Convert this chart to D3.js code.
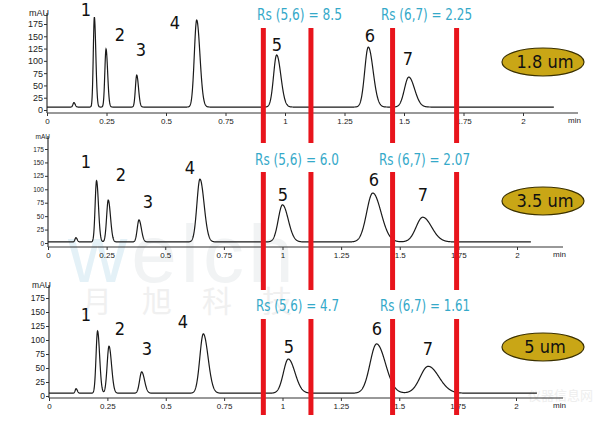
<!DOCTYPE html>
<html>
<head>
<meta charset="utf-8">
<script src="https://cdn.jsdelivr.net/npm/d3@7"></script>
<style>
  body { margin: 0; background: #fff; }
  svg { display: block; }
</style>
</head>
<body>
<div id="chart"></div>
<script>
// ---- data ----
const sizes = ["1.8 um", "3.5 um", "5 um"];
const rsLabels = [
  ["Rs (5,6) = 8.5", "Rs (6,7) = 2.25"],
  ["Rs (5,6) = 6.0", "Rs (6,7) = 2.07"],
  ["Rs (5,6) = 4.7", "Rs (6,7) = 1.61"]
];
const peakNames = ["1", "2", "3", "4", "5", "6", "7"];
// retention time (min)
const peakTimes = [
  [0.199, 0.248, 0.377, 0.629, 0.965, 1.350, 1.520],
  [0.207, 0.257, 0.388, 0.648, 1.000, 1.385, 1.598],
  [0.208, 0.257, 0.397, 0.661, 1.025, 1.403, 1.624]
];
// height above baseline (mAU)
const peakHeights = [
  [183, 118, 65, 177, 106, 122, 61],
  [114, 78, 41, 117, 69, 91, 46],
  [111, 84, 38, 106, 61, 88, 48]
];
// peak sigma (min)
const peakSigmas = [
  [0.0045, 0.005, 0.0055, 0.010, 0.013, 0.015, 0.018],
  [0.0060, 0.007, 0.0075, 0.013, 0.018, 0.026, 0.028],
  [0.0065, 0.008, 0.0090, 0.015, 0.021, 0.028, 0.034]
];
const smallPeakTimes = [0.113, 0.119, 0.116];
const smallPeakHeights = [9, 8, 8];
const baselines = [6, 2, 5];
const runEnds = [2.13, 2.06, 2.09];
const xTicks = [0, 0.25, 0.5, 0.75, 1, 1.25, 1.5, 1.75, 2];
const xTickLabels = ["0", "0.25", "0.5", "0.75", "1", "1.25", "1.5", "1.75", "2"];
const yTicks = [0, 25, 50, 75, 100, 125, 150, 175];
const rsBounds = [0.909, 1.109, 1.452, 1.721];

// ---- layout (pixels) ----
const W = 603, H = 427;
const panels = [
  { x0: 47, x2: 523, y0: 110, y175: 24, axisY: 113, top: 13, axisEnd: 578, yFont: 9,
    ellY: 62, rsY: 15, rsX: [257, 381], rsW: [85, 91],
    lblX: [86, 120, 141, 175, 277, 370, 408], lblY: [10, 35, 50, 23, 45, 36, 59] },
  { x0: 48, x2: 517, y0: 243, y175: 149, axisY: 247, top: 136, axisEnd: 563, yFont: 6.5,
    ellY: 201, rsY: 160, rsX: [255, 379], rsW: [84, 91],
    lblX: [86, 121, 148, 190, 283, 374, 423], lblY: [162, 175, 202, 168, 195, 180, 195] },
  { x0: 49, x2: 516, y0: 396, y175: 298, axisY: 398, top: 285, axisEnd: 563, yFont: 8.5,
    ellY: 347, rsY: 306, rsX: [256, 380], rsW: [83, 90],
    lblX: [86, 120, 147, 183, 289, 377, 428], lblY: [315, 329, 349, 322, 347, 329, 349] }
];
const narrow = "'Liberation Sans Narrow', 'DejaVu Sans Condensed', 'Arial Narrow', sans-serif";
const plain = "'Liberation Sans', Arial, sans-serif";

const svg = d3.select("#chart").append("svg")
  .attr("width", W).attr("height", H);

// faint watermarks
const wm = svg.append("text").attr("x", 68).attr("y", 282)
  .style("font-family", plain).style("font-size", "82px").style("fill", "#f1f3f4")
  .style("letter-spacing", "4px");
wm.append("tspan").style("fill", "#e4f1f7").text("w");
wm.append("tspan").text("elch");
svg.append("text").attr("x", 82).attr("y", 312)
  .style("font-family", "'Noto Sans CJK SC', sans-serif").style("font-size", "30px")
  .style("fill", "#f0f0f0").style("letter-spacing", "30px").text("月旭科技");
svg.append("text").attr("x", 528).attr("y", 400)
  .style("font-family", "'Noto Sans CJK SC', sans-serif").style("font-size", "13px")
  .style("fill", "#eeeeee").text("仪器信息网");

panels.forEach((P, i) => {
  const x = d3.scaleLinear().domain([0, 2]).range([P.x0, P.x2]);
  const y = d3.scaleLinear().domain([0, 175]).range([P.y0, P.y175]);
  const g = svg.append("g");

  // x axis
  const xa = g.append("g")
    .attr("transform", `translate(0,${P.axisY})`)
    .call(d3.axisBottom(x).tickValues(xTicks)
      .tickFormat((d, k) => xTickLabels[k]).tickSize(3).tickPadding(2));
  xa.select(".domain").remove();
  xa.selectAll("text").style("font-family", plain).style("font-size", "8px").attr("fill", "#222");
  xa.selectAll("line").attr("stroke", "#333");
  g.append("line").attr("x1", P.x0).attr("x2", P.axisEnd)
    .attr("y1", P.axisY).attr("y2", P.axisY).attr("stroke", "#333").attr("stroke-width", 1);
  g.append("text").attr("x", P.axisEnd - 10).attr("y", P.axisY + 10)
    .style("font-family", plain).style("font-size", "8px").attr("fill", "#222").text("min");

  // y axis
  const ya = g.append("g")
    .attr("transform", `translate(${P.x0},0)`)
    .call(d3.axisLeft(y).tickValues(yTicks).tickSize(3).tickPadding(1));
  ya.select(".domain").remove();
  ya.selectAll("text").style("font-family", plain).style("font-size", P.yFont + "px").attr("fill", "#222");
  ya.selectAll("line").attr("stroke", "#333");
  g.append("line").attr("x1", P.x0).attr("x2", P.x0)
    .attr("y1", P.axisY).attr("y2", P.top).attr("stroke", "#333").attr("stroke-width", 1.2);
  g.append("text").attr("x", P.x0 + 2).attr("y", P.top + 3).attr("text-anchor", "end")
    .style("font-family", plain).style("font-size", P.yFont + "px").attr("fill", "#222").text("mAU");

  // trace: sum of (slightly tailing) peaks on a baseline
  const peak = (t, c, h, s) => {
    const sd = t < c ? s : s * 1.35;
    return h * Math.exp(-0.5 * ((t - c) / sd) ** 2);
  };
  const signal = t => {
    let v = baselines[i] + peak(t, smallPeakTimes[i], smallPeakHeights[i], 0.004);
    peakTimes[i].forEach((c, k) => { v += peak(t, c, peakHeights[i][k], peakSigmas[i][k]); });
    return v;
  };
  const ts = d3.range(0, runEnds[i], 0.0008);
  g.append("path").datum(ts)
    .attr("fill", "none").attr("stroke", "#1a1a1a").attr("stroke-width", 1.2)
    .attr("d", d3.line().x(t => x(t)).y(t => y(signal(t))));

  // peak numbers
  g.selectAll(".pn").data(peakNames).enter().append("text")
    .attr("x", (d, k) => P.lblX[k]).attr("y", (d, k) => P.lblY[k])
    .attr("dy", "0.36em").attr("text-anchor", "middle")
    .style("font-family", narrow).style("font-size", "18px").attr("fill", "#111")
    .text(d => d);

  // size badge
  g.append("ellipse").attr("cx", 543).attr("cy", P.ellY).attr("rx", 41).attr("ry", 14)
    .attr("fill", "#c9a616").attr("stroke", "#3a3000").attr("stroke-width", 1.2);
  g.append("text").attr("x", 545).attr("y", P.ellY).attr("dy", "0.36em").attr("text-anchor", "middle")
    .style("font-family", narrow).style("font-size", "18px").attr("fill", "#111").text(sizes[i]);

  // Rs labels
  rsLabels[i].forEach((s, k) => {
    g.append("text").attr("x", P.rsX[k]).attr("y", P.rsY).attr("dy", "0.36em")
      .attr("textLength", P.rsW[k]).attr("lengthAdjust", "spacingAndGlyphs")
      .style("font-family", narrow).style("font-size", "15px").attr("fill", "#35a9c9").text(s);
  });
});

// red bracket lines, shared across the three panels
const xr = d3.scaleLinear().domain([0, 2]).range([panels[0].x0, panels[0].x2]);
const segs = [[28, 143], [172, 290], [319, 415]];
rsBounds.forEach(b => {
  segs.forEach(s => {
    svg.append("line").attr("x1", xr(b)).attr("x2", xr(b)).attr("y1", s[0]).attr("y2", s[1])
      .attr("stroke", "#e8141c").attr("stroke-width", 5);
  });
});
</script>
</body>
</html>
